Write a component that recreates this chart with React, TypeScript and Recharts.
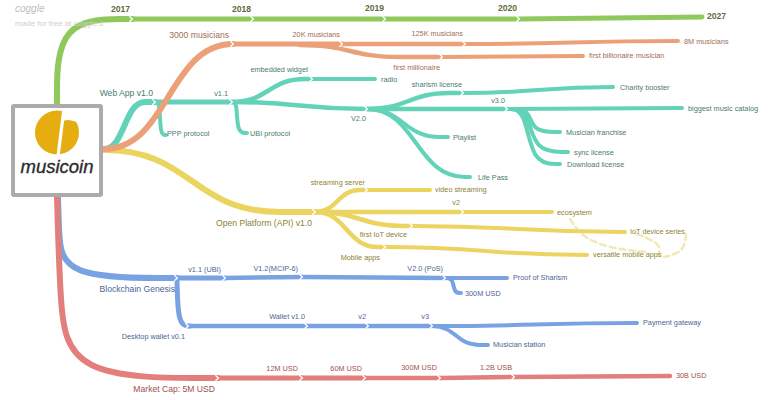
import React from 'react';
import { ComposedChart, Line, Scatter, XAxis, YAxis, ReferenceDot } from 'recharts';

type Pt = { x: number; y: number };
const pts = (a: number[][]): Pt[] => a.map(([x, y]) => ({ x, y }));

// ---------- Timeline (green)
const yearsStem = [[57, 104], [57, 19], [132, 19]];
const yearsTrack = [[132, 19], [253, 19], [385, 19], [519, 19], [702, 17]];
const yearNodes = [[132, 19], [253, 19], [385, 19], [519, 19]];
const yearLabels = [
  { x: 130, y: 9, t: '2017', a: 'end' },
  { x: 251, y: 9, t: '2018', a: 'end' },
  { x: 384, y: 8, t: '2019', a: 'end' },
  { x: 517, y: 8, t: '2020', a: 'end' },
  { x: 707, y: 16, t: '2027', a: 'start' },
];

// ---------- Musicians (orange)
const musicians3000 = [[104, 149], [233, 44]];
const musicians20k = [[233, 44], [342, 44]];
const musicians125k = [[342, 44], [465, 44]];
const musicians8m = [[465, 44], [678, 41]];
const millionaire = [[300, 45], [400, 57], [442, 57]];
const billionaire = [[442, 57], [583, 56]];
const musicianNodes = [[233, 44], [342, 44], [465, 44], [442, 57]];
const musicianLabels = [
  { x: 229, y: 35, t: '3000 musicians', a: 'end', big: true },
  { x: 340, y: 34, t: '20K musicians', a: 'end' },
  { x: 463, y: 33, t: '125K musicians', a: 'end' },
  { x: 684, y: 41, t: '8M musicians', a: 'start' },
  { x: 440, y: 67, t: 'first millionaire', a: 'end' },
  { x: 589, y: 55, t: 'first billionaire musician', a: 'start' },
];

// ---------- Web App (teal)
const webApp = [[104, 149], [145, 102], [155, 102]];
const ppp = [[155, 102], [160, 102], [160, 135], [166, 135]];
const v11 = [[155, 102], [232, 102]];
const ubi = [[232, 102], [237, 102], [237, 133], [247, 133]];
const embedded = [[232, 102], [305, 79], [312, 79]];
const radio = [[312, 79], [375, 79]];
const v20 = [[232, 102], [367, 109]];
const sharism = [[367, 109], [450, 93], [463, 93]];
const charity = [[463, 93], [613, 87]];
const v30 = [[367, 109], [507, 109]];
const catalog = [[507, 109], [682, 108]];
const franchise = [[507, 109], [530, 109], [532, 132], [560, 132]];
const syncLic = [[507, 109], [528, 109], [534, 152], [568, 152]];
const download = [[507, 109], [525, 109], [532, 164], [560, 164]];
const playlist = [[367, 109], [440, 137], [448, 137]];
const lifePass = [[367, 109], [465, 177], [470, 177]];
const webNodes = [[155, 102], [232, 102], [312, 79], [367, 109], [463, 93], [507, 109]];
const webLabels = [
  { x: 153, y: 93, t: 'Web App v1.0', a: 'end', big: true },
  { x: 167, y: 133, t: 'PPP protocol', a: 'start' },
  { x: 228, y: 93, t: 'v1.1', a: 'end' },
  { x: 250, y: 133, t: 'UBI protocol', a: 'start' },
  { x: 308, y: 69, t: 'embedded widget', a: 'end' },
  { x: 381, y: 79, t: 'radio', a: 'start' },
  { x: 366, y: 118, t: 'V2.0', a: 'end' },
  { x: 462, y: 84, t: 'sharism license', a: 'end' },
  { x: 620, y: 87, t: 'Charity booster', a: 'start' },
  { x: 505, y: 100, t: 'v3.0', a: 'end' },
  { x: 688, y: 108, t: 'biggest music catalog', a: 'start' },
  { x: 566, y: 132, t: 'Musician franchise', a: 'start' },
  { x: 574, y: 152, t: 'sync license', a: 'start' },
  { x: 567, y: 164, t: 'Download license', a: 'start' },
  { x: 453, y: 137, t: 'Playlist', a: 'start' },
  { x: 478, y: 177, t: 'Life Pass', a: 'start' },
];

// ---------- Open Platform (yellow)
const openPlatform = [[104, 150], [280, 212], [315, 212]];
const streamServer = [[315, 212], [360, 190], [367, 190]];
const videoStream = [[367, 190], [430, 190]];
const apiV2 = [[315, 212], [463, 212]];
const ecosystem = [[463, 212], [552, 212]];
const firstIot = [[315, 212], [405, 226], [412, 226]];
const iotSeries = [[412, 226], [625, 232]];
const mobileApps = [[315, 212], [378, 247], [385, 247]];
const versatile = [[385, 247], [587, 255]];
const linkA = [[570, 219], [584, 240], [620, 250], [648, 252]];
const linkB = [[637, 234], [662, 244], [658, 256]];
const linkC = [[686, 234], [684, 252], [664, 257]];
const apiNodes = [[315, 212], [367, 190], [463, 212], [412, 226], [385, 247]];
const apiLabels = [
  { x: 312, y: 223, t: 'Open Platform (API) v1.0', a: 'end', big: true },
  { x: 365, y: 182, t: 'streaming server', a: 'end' },
  { x: 435, y: 189, t: 'video streaming', a: 'start' },
  { x: 460, y: 202, t: 'v2', a: 'end' },
  { x: 557, y: 212, t: 'ecosystem', a: 'start' },
  { x: 407, y: 234, t: 'first IoT device', a: 'end' },
  { x: 630, y: 231, t: 'IoT device series', a: 'start' },
  { x: 380, y: 257, t: 'Mobile apps', a: 'end' },
  { x: 593, y: 254, t: 'versatile mobile apps', a: 'start' },
];

// ---------- Blockchain (blue)
const genesis = [[58, 197], [59, 232], [62, 278], [177, 278]];
const ubi11 = [[177, 278], [225, 278]];
const mcip = [[225, 278], [302, 277]];
const pos = [[302, 277], [445, 278]];
const proofSharism = [[445, 278], [507, 278]];
const usd300 = [[445, 278], [453, 278], [454, 293], [461, 293]];
const desktop = [[177, 279], [178, 326], [190, 326]];
const wallet10 = [[188, 326], [307, 326]];
const wallet2 = [[307, 326], [368, 326]];
const wallet3 = [[368, 326], [432, 326]];
const payment = [[432, 326], [637, 323]];
const station = [[432, 326], [480, 345], [488, 345]];
const chainNodes = [[177, 278], [225, 278], [302, 277], [445, 278], [188, 326], [307, 326], [368, 326], [432, 326]];
const chainLabels = [
  { x: 175, y: 289, t: 'Blockchain Genesis', a: 'end', big: true },
  { x: 221, y: 269, t: 'v1.1 (UBI)', a: 'end' },
  { x: 298, y: 268, t: 'V1.2(MCIP-6)', a: 'end' },
  { x: 443, y: 268, t: 'V2.0 (PoS)', a: 'end' },
  { x: 513, y: 277, t: 'Proof of Sharism', a: 'start' },
  { x: 465, y: 293, t: '300M USD', a: 'start' },
  { x: 185, y: 336, t: 'Desktop wallet v0.1', a: 'end' },
  { x: 305, y: 316, t: 'Wallet v1.0', a: 'end' },
  { x: 366, y: 316, t: 'v2', a: 'end' },
  { x: 429, y: 316, t: 'v3', a: 'end' },
  { x: 643, y: 322, t: 'Payment gateway', a: 'start' },
  { x: 493, y: 344, t: 'Musician station', a: 'start' },
];

// ---------- Market cap (red)
const marketCap = [[57, 197], [60, 300], [68, 378], [218, 378]];
const cap12m = [[218, 378], [302, 378]];
const cap60m = [[302, 378], [365, 378]];
const cap300m = [[365, 378], [440, 378]];
const cap12b = [[440, 378], [514, 377]];
const cap30b = [[514, 377], [670, 376]];
const capNodes = [[218, 378], [302, 378], [365, 378], [440, 378], [514, 377]];
const capLabels = [
  { x: 215, y: 389, t: 'Market Cap: 5M USD', a: 'end', big: true },
  { x: 298, y: 368, t: '12M USD', a: 'end' },
  { x: 362, y: 368, t: '60M USD', a: 'end' },
  { x: 437, y: 367, t: '300M USD', a: 'end' },
  { x: 512, y: 367, t: '1.2B USB', a: 'end' },
  { x: 676, y: 375, t: '30B USD', a: 'start' },
];

// ---------- styles
const GREEN = '#8fc95b';
const ORANGE = '#eba078';
const TEAL = '#62d3b9';
const YELLOW = '#ebd460';
const BLUE = '#78a2e2';
const RED = '#e27f7c';
const LINK = '#f2e8b4';

const FONT = "'Liberation Sans', Arial, sans-serif";

const branches: { d: number[][]; c: string; w: number; k: string; dash?: string }[] = [
  { d: yearsStem, c: GREEN, w: 6, k: 'basis' },
  { d: yearsTrack, c: GREEN, w: 5, k: 'linear' },

  { d: webApp, c: TEAL, w: 6, k: 'bumpX' },
  { d: ppp, c: TEAL, w: 4, k: 'basis' },
  { d: v11, c: TEAL, w: 5, k: 'linear' },
  { d: ubi, c: TEAL, w: 4, k: 'basis' },
  { d: embedded, c: TEAL, w: 4.5, k: 'bumpX' },
  { d: radio, c: TEAL, w: 4, k: 'linear' },
  { d: v20, c: TEAL, w: 4.5, k: 'bumpX' },
  { d: sharism, c: TEAL, w: 4.5, k: 'bumpX' },
  { d: charity, c: TEAL, w: 4, k: 'bumpX' },
  { d: v30, c: TEAL, w: 4.5, k: 'linear' },
  { d: catalog, c: TEAL, w: 4, k: 'bumpX' },
  { d: franchise, c: TEAL, w: 4, k: 'basis' },
  { d: syncLic, c: TEAL, w: 4, k: 'basis' },
  { d: download, c: TEAL, w: 4, k: 'basis' },
  { d: playlist, c: TEAL, w: 4, k: 'bumpX' },
  { d: lifePass, c: TEAL, w: 4, k: 'bumpX' },

  { d: linkA, c: LINK, w: 2.5, k: 'basis', dash: '6 4' },
  { d: linkB, c: LINK, w: 2.5, k: 'basis', dash: '6 4' },
  { d: linkC, c: LINK, w: 2.5, k: 'basis', dash: '6 4' },

  { d: openPlatform, c: YELLOW, w: 6, k: 'bumpX' },
  { d: streamServer, c: YELLOW, w: 4.5, k: 'bumpX' },
  { d: videoStream, c: YELLOW, w: 4, k: 'linear' },
  { d: apiV2, c: YELLOW, w: 4.5, k: 'linear' },
  { d: ecosystem, c: YELLOW, w: 4, k: 'linear' },
  { d: firstIot, c: YELLOW, w: 4.5, k: 'bumpX' },
  { d: iotSeries, c: YELLOW, w: 4, k: 'bumpX' },
  { d: mobileApps, c: YELLOW, w: 4.5, k: 'bumpX' },
  { d: versatile, c: YELLOW, w: 4, k: 'bumpX' },

  { d: musicians3000, c: ORANGE, w: 6, k: 'bumpX' },
  { d: musicians20k, c: ORANGE, w: 5, k: 'linear' },
  { d: musicians125k, c: ORANGE, w: 4.5, k: 'linear' },
  { d: musicians8m, c: ORANGE, w: 4, k: 'bumpX' },
  { d: millionaire, c: ORANGE, w: 4.5, k: 'bumpX' },
  { d: billionaire, c: ORANGE, w: 4, k: 'bumpX' },

  { d: genesis, c: BLUE, w: 6, k: 'basis' },
  { d: ubi11, c: BLUE, w: 5, k: 'linear' },
  { d: mcip, c: BLUE, w: 4.5, k: 'linear' },
  { d: pos, c: BLUE, w: 4.5, k: 'linear' },
  { d: proofSharism, c: BLUE, w: 4, k: 'linear' },
  { d: usd300, c: BLUE, w: 4, k: 'basis' },
  { d: desktop, c: BLUE, w: 5, k: 'basis' },
  { d: wallet10, c: BLUE, w: 4.5, k: 'linear' },
  { d: wallet2, c: BLUE, w: 4.5, k: 'linear' },
  { d: wallet3, c: BLUE, w: 4.5, k: 'linear' },
  { d: payment, c: BLUE, w: 4, k: 'bumpX' },
  { d: station, c: BLUE, w: 4, k: 'bumpX' },

  { d: marketCap, c: RED, w: 6, k: 'basis' },
  { d: cap12m, c: RED, w: 5, k: 'linear' },
  { d: cap60m, c: RED, w: 5, k: 'linear' },
  { d: cap300m, c: RED, w: 4.5, k: 'linear' },
  { d: cap12b, c: RED, w: 4.5, k: 'linear' },
  { d: cap30b, c: RED, w: 4.5, k: 'linear' },
];

const labelGroups = [
  { d: yearLabels, c: '#5e6b40', bold: true },
  { d: musicianLabels, c: '#a06d58', bold: false },
  { d: webLabels, c: '#4b7a74', bold: false },
  { d: apiLabels, c: '#8d7f31', bold: false },
  { d: chainLabels, c: '#4d6594', bold: false },
  { d: capLabels, c: '#a24f4c', bold: false },
];

const allNodes = pts([...yearNodes, ...musicianNodes, ...webNodes, ...apiNodes, ...chainNodes, ...capNodes]);

const makeLabel = (color: string, bold: boolean) => (props: any) => {
  const { cx, cy, payload } = props;
  if (cx == null || cy == null) return <g />;
  return (
    <text
      x={cx}
      y={cy}
      dy="0.35em"
      textAnchor={payload.a}
      fontFamily={FONT}
      fontSize={bold ? 8.6 : payload.big ? 8.6 : 7.3}
      fontWeight={bold ? 700 : 400}
      fill={color}
    >
      {payload.t}
    </text>
  );
};

const Chevron = (props: any) => {
  const { cx, cy } = props;
  if (cx == null || cy == null) return <g />;
  return (
    <path
      d={`M${cx - 2.6},${cy - 2.8} L${cx + 0.4},${cy} L${cx - 2.6},${cy + 2.8}`}
      stroke="#ffffff"
      strokeWidth={1.3}
      fill="none"
    />
  );
};

const LogoShape = (props: any) => {
  const { cx, cy } = props;
  if (cx == null || cy == null) return <g />;
  // cx, cy = centre of the logo box
  return (
    <g>
      <rect x={cx - 44} y={cy - 44.5} width={88} height={89} fill="#ffffff" stroke="#ababab" strokeWidth={4} rx={1} />
      <circle cx={cx} cy={cy - 18} r={22} fill="#e6ad10" />
      <path
        d={`M${cx + 5},${cy - 42} L${cx + 26},${cy - 42} L${cx + 26},${cy - 24} Q${cx + 16},${cy - 32} ${cx + 7},${cy - 30} Z`}
        fill="#ffffff"
      />
      <path
        d={`M${cx + 2},${cy + 6} Q${cx + 16},${cy + 2} ${cx + 24},${cy - 10} L${cx + 26},${cy + 8} Z`}
        fill="#ffffff"
      />
      <line x1={cx + 7} y1={cy - 42} x2={cx + 1} y2={cy + 6} stroke="#ffffff" strokeWidth={3.2} />
      <text
        x={cx}
        y={cy + 22}
        textAnchor="middle"
        fontFamily={FONT}
        fontStyle="italic"
        fontSize={18.5}
        fill="#2b2b2b"
        stroke="#2b2b2b"
        strokeWidth={0.35}
      >
        musicoin
      </text>
    </g>
  );
};

const Watermark = (props: any) => {
  const { cx, cy } = props;
  if (cx == null || cy == null) return <g />;
  return (
    <g>
      <text x={cx} y={cy} fontFamily={FONT} fontStyle="italic" fontSize={10} fill="#bdbdbd">coggle</text>
      <text x={cx} y={cy + 14} fontFamily={FONT} fontSize={8} fill="#cfcfcf">made for free at coggle.it</text>
    </g>
  );
};

export default function App() {
  return (
    <div style={{ position: 'absolute', left: 0, top: 0, width: 768, height: 400, background: '#fff' }}>
      <ComposedChart width={768} height={400} margin={{ top: 0, right: 0, bottom: 0, left: 0 }}>
        <XAxis type="number" dataKey="x" domain={[0, 768]} hide allowDataOverflow />
        <YAxis type="number" dataKey="y" domain={[0, 400]} reversed hide allowDataOverflow />
        <ReferenceDot x={15} y={12} r={1} shape={Watermark} ifOverflow="visible" />
        {branches.map((b, i) => (
          <Line
            key={`b${i}`}
            data={pts(b.d)}
            dataKey="y"
            type={b.k as any}
            stroke={b.c}
            strokeWidth={b.w}
            strokeLinecap="round"
            strokeDasharray={b.dash}
            dot={false}
            activeDot={false}
            isAnimationActive={false}
            legendType="none"
          />
        ))}
        <Scatter data={allNodes} shape={Chevron} isAnimationActive={false} legendType="none" />
        {labelGroups.map((g, i) => (
          <Scatter
            key={`l${i}`}
            data={g.d}
            shape={makeLabel(g.c, g.bold)}
            isAnimationActive={false}
            legendType="none"
          />
        ))}
        <ReferenceDot x={57} y={150.5} r={1} shape={LogoShape} ifOverflow="visible" />
      </ComposedChart>
    </div>
  );
}
